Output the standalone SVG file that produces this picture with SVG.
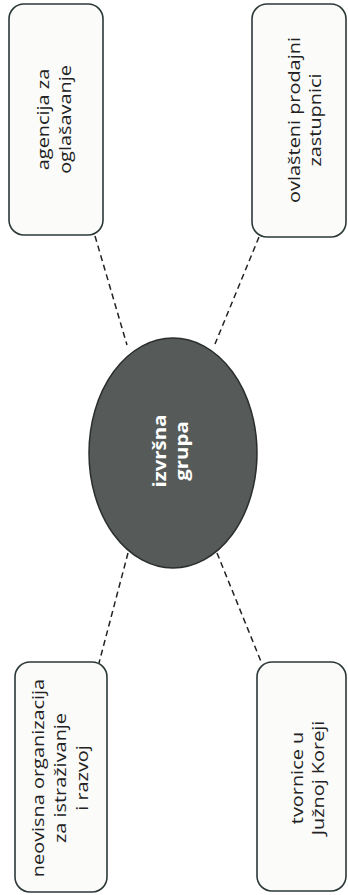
<svg xmlns="http://www.w3.org/2000/svg" width="348" height="895" viewBox="0 0 348 895">
<style>
.box{fill:#fbfbfa;stroke:#2c3838;stroke-width:1.6}
.lbl{font-family:"Open Sans","Noto Sans","DejaVu Sans",sans-serif;font-size:17px;fill:#222;text-anchor:middle}
.ctr{font-family:"Open Sans","Noto Sans","DejaVu Sans",sans-serif;font-size:17px;font-weight:bold;fill:#ffffff;text-anchor:middle}
.con{stroke:#222;stroke-width:1.5;stroke-dasharray:6 4;fill:none}
</style>
<rect width="348" height="895" fill="#ffffff"/>
<g id="connectors">
<line class="con" x1="95" y1="236" x2="127" y2="345"/>
<line class="con" x1="259" y1="237" x2="215" y2="344"/>
<line class="con" x1="128" y1="553" x2="99" y2="663"/>
<line class="con" x1="217" y1="553" x2="262" y2="664"/>
</g>
<g id="agencija">
<rect class="box" x="9" y="4" width="94" height="231" rx="15"/>
<text class="lbl" transform="translate(56,119.5) scale(1,1.17) rotate(-90)"><tspan x="0" y="-7">agencija za</tspan><tspan x="0" y="15">oglašavanje</tspan></text>
</g>
<g id="zastupnici">
<rect class="box" x="252" y="4" width="94" height="233" rx="15"/>
<text class="lbl" transform="translate(299,120) scale(1,1.17) rotate(-90)"><tspan x="0" y="1">ovlašteni prodajni</tspan><tspan x="0" y="22">zastupnici</tspan></text>
</g>
<g id="izvrsna">
<ellipse cx="173" cy="453" rx="84" ry="115" fill="#565b59" stroke="#2a2e2d" stroke-width="1.5"/>
<text class="ctr" transform="translate(173,451) scale(1,1.2) rotate(-90)"><tspan x="0" y="-7">izvršna</tspan><tspan x="0" y="15">grupa</tspan></text>
</g>
<g id="neovisna">
<rect class="box" x="15" y="662" width="92" height="230" rx="15"/>
<text class="lbl" transform="translate(61,778) scale(1,1.17) rotate(-90)"><tspan x="0" y="-17">neovisna organizacija</tspan><tspan x="0" y="5">za istraživanje</tspan><tspan x="0" y="27">i razvoj</tspan></text>
</g>
<g id="tvornice">
<rect class="box" x="257" y="662" width="89" height="229" rx="15"/>
<text class="lbl" transform="translate(302,778) scale(1,1.17) rotate(-90)"><tspan x="0" y="1">tvornice u</tspan><tspan x="0" y="22">Južnoj Koreji</tspan></text>
</g>
</svg>
